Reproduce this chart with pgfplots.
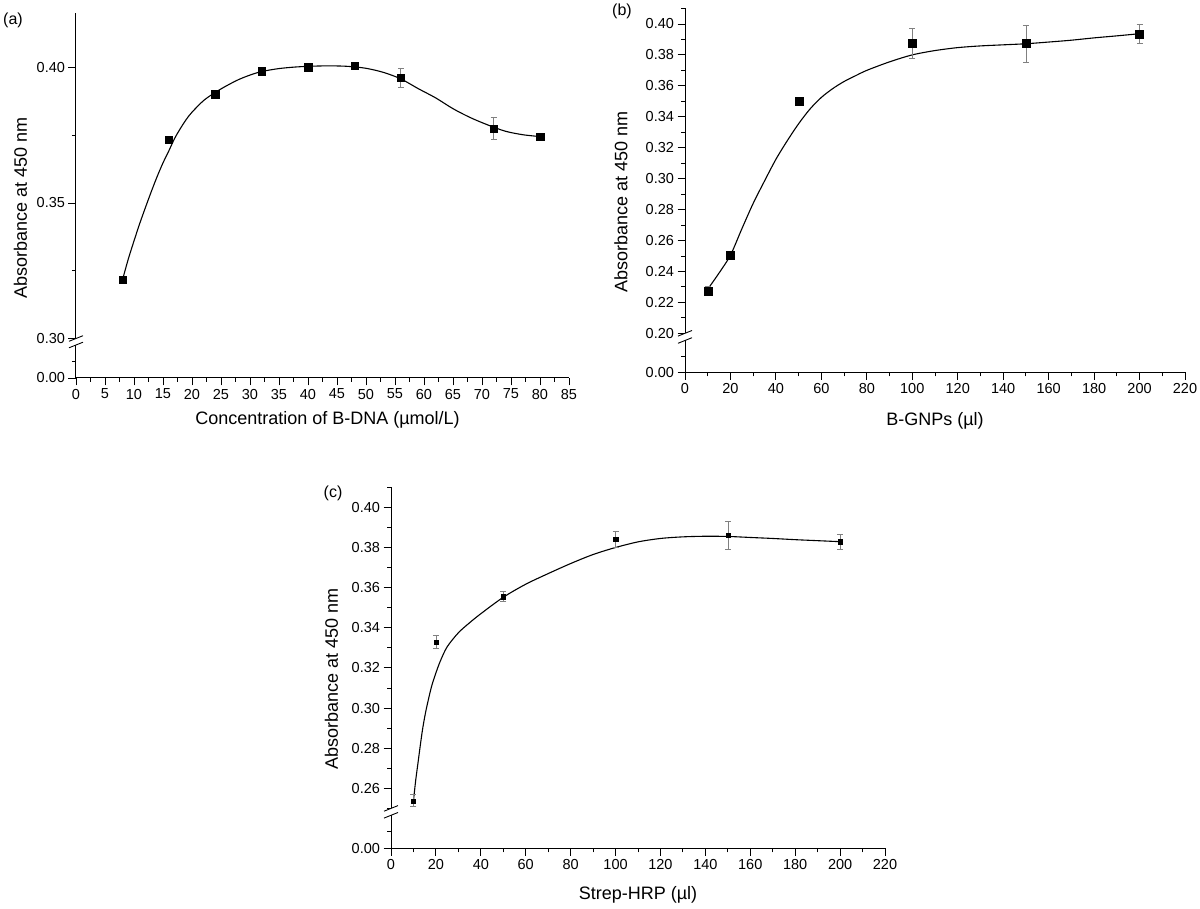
\documentclass[border=0pt]{standalone}
\usepackage{fontspec}
\setmainfont{Liberation Sans}
\usepackage{pgfplots}
\pgfplotsset{compat=1.18}
\pgfplotsset{
  panel/.style={
    scale only axis, anchor=south west, clip=false,
    tick align=outside, scaled y ticks=false,
    major tick length=7.5pt, minor tick length=4pt,
    tick style={black, line width=0.9pt},
    axis line style={black, line width=1pt},
    tick label style={font=\fontsize{14.5}{16}\selectfont},
    /pgf/number format/assume math mode=true,
    yticklabel style={/pgf/number format/fixed, /pgf/number format/fixed zerofill,
      /pgf/number format/precision=2},
  },
  upper/.style={panel, hide x axis, axis y line*=left},
  lower/.style={panel, axis x line*=bottom, axis y line*=left,
    ymin=0, ymax=0.02, ytick={0}, minor ytick={0.01}},
  fitline/.style={black, line width=1.1pt, smooth, no marks},
  pts/.style={only marks, mark=square*, mark size=#1,
    mark options={fill=black, draw=black, line width=0.2pt},
    error bars/.cd, y dir=both, y explicit,
    error bar style={gray, line width=0.6pt},
    error mark options={rotate=90, gray, mark size=3pt, line width=0.6pt}},
}
\begin{document}
\begin{tikzpicture}
\useasboundingbox (0,0) rectangle (1200pt,909pt);

% ---------- (a) ----------
\begin{axis}[upper, at={(76pt,570.5pt)}, width=493pt, height=325.2pt,
  xmin=0, xmax=85, ymin=0.30, ymax=0.42,
  ytick={0.30,0.35,0.40}, minor ytick={0.325,0.375}]
\addplot[fitline] coordinates {
  (8,0.3215) (9,0.3292) (10,0.3360) (11,0.3425) (12,0.3485) (13,0.3543)
  (14,0.3598) (15,0.3648) (16,0.3692) (17,0.3738) (18,0.3775) (19,0.3808)
  (20,0.3835) (22,0.3878) (24,0.3908) (26,0.3933) (28,0.3955) (30,0.3972)
  (32,0.3985) (35,0.3996) (38,0.4002) (41,0.4005) (44,0.4006) (47,0.4004)
  (50,0.3997) (53,0.3982) (56,0.3958) (59,0.3922) (62,0.3888) (65,0.3848)
  (68,0.3815) (71,0.3788) (74,0.3765) (77,0.3752) (80,0.3745)};
\addplot[pts=3.7pt] coordinates {
  (8,0.3217) +- (0,0.0012)
  (16,0.3735) +- (0,0.0010)
  (24,0.3902) +- (0,0.0010)
  (32,0.3986) +- (0,0.0012)
  (40,0.4002) +- (0,0.0008)
  (48,0.4007) +- (0,0.0012)
  (56,0.3962) +- (0,0.0035)
  (72,0.3775) +- (0,0.0040)
  (80,0.3745) +- (0,0.0008)};
\end{axis}
\begin{axis}[lower, at={(76pt,531pt)}, width=493pt, height=33pt,
  xmin=0, xmax=85, xtick distance=5, minor x tick num=1]
\end{axis}
\draw[line width=0.9pt] (69pt,567.7pt) -- (83pt,573.3pt);
\draw[line width=0.9pt] (69pt,561.2pt) -- (83pt,566.8pt);
\node[font=\fontsize{16}{18}\selectfont] at (13pt,889pt) {(a)};
\node[rotate=90, font=\fontsize{18}{20}\selectfont] at (20.5pt,701pt) {Absorbance at 450 nm};
\node[font=\fontsize{18}{20}\selectfont] at (327.5pt,489pt) {Concentration of B-DNA (µmol/L)};

% ---------- (b) ----------
\begin{axis}[upper, at={(685pt,575.7pt)}, width=500pt, height=324.8pt,
  xmin=0, xmax=220, ymin=0.20, ymax=0.41,
  ytick={0.20,0.22,0.24,0.26,0.28,0.30,0.32,0.34,0.36,0.38,0.40},
  minor ytick={0.21,0.23,0.25,0.27,0.29,0.31,0.33,0.35,0.37,0.39,0.41}]
\addplot[fitline] coordinates {
  (10,0.2285) (15,0.2390) (20,0.2505) (25,0.2675) (30,0.2840) (35,0.2985)
  (40,0.3125) (45,0.3245) (50,0.3355) (55,0.3450) (60,0.3525) (65,0.3582)
  (70,0.3628) (75,0.3665) (80,0.3700) (90,0.3755) (100,0.3800) (110,0.3828)
  (120,0.3847) (130,0.3858) (140,0.3865) (150,0.3872) (160,0.3883)
  (170,0.3895) (180,0.3910) (190,0.3923) (200,0.3937)};
\addplot[pts=4pt] coordinates {
  (10,0.2275) +- (0,0.003)
  (20,0.2505) +- (0,0.002)
  (50,0.3504) +- (0,0.002)
  (100,0.3875) +- (0,0.010)
  (150,0.3873) +- (0,0.012)
  (200,0.3937) +- (0,0.006)};
\end{axis}
\begin{axis}[lower, at={(685pt,536.5pt)}, width=500pt, height=32pt,
  xmin=0, xmax=220, xtick distance=20, minor x tick num=1]
\end{axis}
\draw[line width=0.9pt] (678pt,572.9pt) -- (692pt,578.5pt);
\draw[line width=0.9pt] (678pt,565.7pt) -- (692pt,571.3pt);
\node[font=\fontsize{16}{18}\selectfont] at (622pt,898pt) {(b)};
\node[rotate=90, font=\fontsize{18}{20}\selectfont] at (621pt,707pt) {Absorbance at 450 nm};
\node[font=\fontsize{18}{20}\selectfont] at (935pt,488pt) {B-GNPs (µl)};

% ---------- (c) ----------
\begin{axis}[upper, at={(391pt,100.6pt)}, width=494pt, height=321.1pt,
  xmin=0, xmax=220, ymin=0.25, ymax=0.41,
  ytick={0.26,0.28,0.30,0.32,0.34,0.36,0.38,0.40},
  minor ytick={0.25,0.27,0.29,0.31,0.33,0.35,0.37,0.39,0.41}]
\addplot[fitline] coordinates {
  (10,0.2538) (11,0.2640) (12,0.2725) (13,0.2810) (14,0.2890) (15,0.2955)
  (16,0.3010) (18,0.3105) (20,0.3175) (22,0.3235) (25,0.3305) (30,0.3375)
  (35,0.3425) (40,0.3470) (50,0.3552) (60,0.3617) (70,0.3670) (80,0.3720)
  (90,0.3765) (100,0.3800) (110,0.3828) (120,0.3845) (130,0.3853)
  (140,0.3856) (150,0.3855) (160,0.3850) (170,0.3845) (180,0.3839)
  (190,0.3834) (200,0.3829)};
\addplot[pts=2.1pt] coordinates {
  (10,0.2538) +- (0,0.003)
  (20,0.3330) +- (0,0.0034)
  (50,0.3555) +- (0,0.0025)
  (100,0.3842) +- (0,0.004)
  (150,0.3860) +- (0,0.007)
  (200,0.3829) +- (0,0.0037)};
\end{axis}
\begin{axis}[lower, at={(391pt,60.7pt)}, width=494pt, height=33pt,
  xmin=0, xmax=220, xtick distance=20, minor x tick num=1]
\end{axis}
\draw[line width=0.9pt] (384pt,97.8pt) -- (398pt,103.4pt);
\draw[line width=0.9pt] (384pt,90.9pt) -- (398pt,96.5pt);
\node[font=\fontsize{16}{18}\selectfont] at (333pt,416pt) {(c)};
\node[rotate=90, font=\fontsize{18}{20}\selectfont] at (331.5pt,230pt) {Absorbance at 450 nm};
\node[font=\fontsize{18}{20}\selectfont] at (638pt,14pt) {Strep-HRP (µl)};
\end{tikzpicture}
\end{document}
